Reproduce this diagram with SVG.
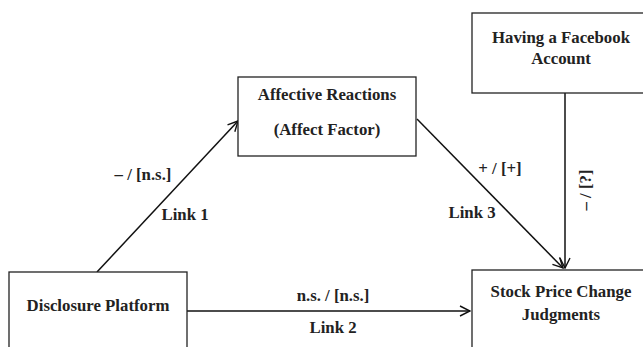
<svg xmlns="http://www.w3.org/2000/svg" width="643" height="347" viewBox="0 0 643 347">
<style>
.box{fill:#fff;stroke:#222;stroke-width:1.3}
.t{font-family:"Liberation Serif","Times New Roman",serif;font-weight:bold;font-size:16.8px;fill:#222;text-anchor:middle}
.c{stroke:#111;stroke-width:1.5;fill:none}
</style>
<defs>
<marker id="arr" viewBox="0 0 12 12" refX="11" refY="6" markerWidth="12" markerHeight="12" markerUnits="userSpaceOnUse" orient="auto">
<path d="M1,1 L11,6 L1,11" fill="none" stroke="#111" stroke-width="1.4"/>
</marker>
</defs>
<rect width="643" height="347" fill="#fff"/>
<g id="connectors">
<line class="c" x1="97" y1="272" x2="238" y2="121" marker-end="url(#arr)"/>
<line class="c" x1="187" y1="311" x2="470" y2="311" marker-end="url(#arr)"/>
<line class="c" x1="417" y1="119" x2="563" y2="268" marker-end="url(#arr)"/>
<line class="c" x1="565" y1="93" x2="565" y2="268" marker-end="url(#arr)"/>
<text class="t" x="143" y="180">– / [n.s.]</text>
<text class="t" x="185" y="220">Link 1</text>
<text class="t" x="333" y="301">n.s. / [n.s.]</text>
<text class="t" x="333" y="333">Link 2</text>
<text class="t" x="500" y="174">+ / [+]</text>
<text class="t" x="472" y="218">Link 3</text>
<text class="t" transform="translate(591,190) rotate(-90)">– / [?]</text>
</g>
<g id="disclosure">
<rect class="box" x="9" y="272" width="178" height="90"/>
<text class="t" x="98" y="311">Disclosure Platform</text>
</g>
<g id="affective">
<rect class="box" x="238" y="77" width="178" height="79"/>
<text class="t" x="327" y="100">Affective Reactions</text>
<text class="t" x="327" y="135">(Affect Factor)</text>
</g>
<g id="facebook">
<rect class="box" x="472" y="13" width="178" height="80"/>
<text class="t" x="561" y="43">Having a Facebook</text>
<text class="t" x="561" y="64">Account</text>
</g>
<g id="stock">
<rect class="box" x="472" y="270" width="178" height="90"/>
<text class="t" x="561" y="297">Stock Price Change</text>
<text class="t" x="561" y="320">Judgments</text>
</g>
</svg>
